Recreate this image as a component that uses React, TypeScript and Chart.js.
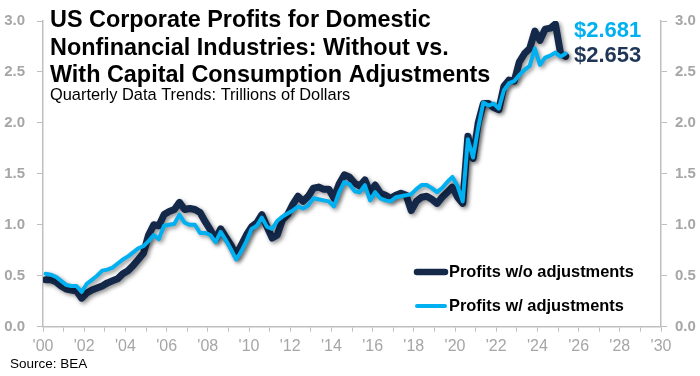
import React, { useEffect, useRef } from "react";
import { Chart, registerables } from "chart.js";
Chart.register(...registerables);

const startYear = 2000;
// Quarterly values, 2000 Q1 .. 2025 Q2 (trillions of dollars)
const profitsWithoutAdj = [
  0.46, 0.46, 0.44, 0.40,
  0.37, 0.36, 0.35, 0.28,
  0.33, 0.36, 0.38, 0.40,
  0.43, 0.45, 0.47, 0.52,
  0.55, 0.60, 0.66, 0.72,
  0.90, 1.00, 0.99, 1.10,
  1.13, 1.15, 1.22, 1.15,
  1.16, 1.15, 1.12, 1.03,
  0.95, 0.86, 0.96, 0.88,
  0.80, 0.70, 0.80, 0.90,
  0.98, 1.02, 1.10, 0.98,
  0.87, 0.90, 1.05, 1.10,
  1.20, 1.28, 1.23, 1.28,
  1.36, 1.37, 1.35, 1.35,
  1.26, 1.40, 1.49, 1.47,
  1.41, 1.38, 1.44, 1.32,
  1.39, 1.31, 1.29, 1.26,
  1.29, 1.31, 1.29, 1.14,
  1.23, 1.27, 1.28, 1.25,
  1.21, 1.27, 1.32, 1.37,
  1.27, 1.21, 1.87, 1.65,
  2.00, 2.19, 2.19, 2.15,
  2.13, 2.36, 2.42, 2.41,
  2.60, 2.68, 2.73, 2.90,
  2.81, 2.92, 2.93, 2.97,
  2.68, 2.653,
];
const profitsWithAdj = [
  0.52, 0.51, 0.49, 0.45,
  0.41, 0.40, 0.40, 0.34,
  0.42, 0.46, 0.50, 0.55,
  0.56, 0.58, 0.62, 0.66,
  0.69, 0.73, 0.77, 0.79,
  0.84, 0.90, 0.86, 0.99,
  1.00, 1.01, 1.10, 1.02,
  1.00, 1.00, 0.92, 0.92,
  0.90, 0.83, 0.93, 0.85,
  0.76, 0.66, 0.74, 0.84,
  0.96, 0.99, 1.07, 0.98,
  0.96, 1.04, 1.08, 1.11,
  1.14, 1.18, 1.16, 1.19,
  1.26, 1.25, 1.24, 1.23,
  1.18, 1.32, 1.42, 1.40,
  1.33, 1.32, 1.39, 1.24,
  1.32, 1.26, 1.24, 1.23,
  1.27, 1.28, 1.29, 1.30,
  1.35, 1.39, 1.39, 1.36,
  1.32, 1.36, 1.42, 1.47,
  1.38, 1.23, 1.84, 1.66,
  1.95, 2.20, 2.17, 2.19,
  2.14, 2.32, 2.39, 2.41,
  2.47, 2.52, 2.56, 2.73,
  2.57, 2.64, 2.66, 2.69,
  2.65, 2.681,
];

const seriesNames = ["Profits w/o adjustments", "Profits w/ adjustments"];
const titleLines = [
  "US Corporate Profits for Domestic",
  "Nonfinancial Industries: Without vs.",
  "With Capital Consumption Adjustments",
];
const subtitle = "Quarterly Data Trends: Trillions of Dollars";
const sourceText = "Source: BEA";
const xMin = 2000;
const xMax = 2030;
const yMax = 3.0;

const DARK = "#14284a";
const DARK_LABEL = "#1f3657";
const LIGHT = "#00b0f0";
const GREY = "#a6a6a6";
const AXIS = "#bfbfbf";
const FONT = "'Liberation Sans', Arial, sans-serif";

const toPoints = (arr: number[]) =>
  arr.map((v, i) => ({ x: startYear + (i + 0.5) / 4, y: v }));

export default function App() {
  const ref = useRef<HTMLCanvasElement | null>(null);
  useEffect(() => {
    document.body.style.margin = "0";
    const canvas = ref.current!;
    const shadowPlugin = {
      id: "shadow",
      beforeDatasetDraw(chart: any) {
        const c = chart.ctx;
        c.save();
        c.shadowColor = "rgba(0,0,0,0.45)";
        c.shadowBlur = 4;
        c.shadowOffsetX = 2;
        c.shadowOffsetY = 2;
      },
      afterDatasetDraw(chart: any) {
        chart.ctx.restore();
      },
    };
    const textPlugin = {
      id: "texts",
      afterDraw(chart: any) {
        const c = chart.ctx as CanvasRenderingContext2D;
        c.save();
        c.textAlign = "left";
        c.textBaseline = "alphabetic";
        c.fillStyle = "#000";
        c.font = `bold 23.4px ${FONT}`;
        titleLines.forEach((t, i) => c.fillText(t, 50, 27 + i * 27.5));
        c.font = `16.4px ${FONT}`;
        c.fillText(subtitle, 50, 100);
        // end value labels
        const lastW = profitsWithAdj[profitsWithAdj.length - 1];
        const lastWo = profitsWithoutAdj[profitsWithoutAdj.length - 1];
        c.font = `bold 22px ${FONT}`;
        c.fillStyle = LIGHT;
        c.fillText("$" + lastW.toFixed(3), 574, 37);
        c.fillStyle = DARK_LABEL;
        c.fillText("$" + lastWo.toFixed(3), 574, 62);
        // legend
        c.lineCap = "round";
        c.strokeStyle = DARK;
        c.lineWidth = 6.5;
        c.beginPath();
        c.moveTo(417, 272);
        c.lineTo(445, 272);
        c.stroke();
        c.strokeStyle = LIGHT;
        c.lineWidth = 4;
        c.beginPath();
        c.moveTo(417, 306);
        c.lineTo(445, 306);
        c.stroke();
        c.fillStyle = "#000";
        c.font = `bold 16.4px ${FONT}`;
        c.textBaseline = "middle";
        c.fillText(seriesNames[0], 449, 272);
        c.fillText(seriesNames[1], 449, 306);
        c.font = `13.5px ${FONT}`;
        c.fillText(sourceText, 10, 364);
        c.restore();
      },
    };
    const yTicks = {
      min: 0,
      max: yMax,
    };
    const chart = new Chart(canvas, {
      type: "line",
      data: {
        datasets: [
          {
            label: seriesNames[1],
            data: toPoints(profitsWithAdj),
            borderColor: LIGHT,
            borderWidth: 4,
            pointRadius: 0,
            tension: 0,
            order: 0,
            borderJoinStyle: "round",
            borderCapStyle: "round",
          },
          {
            label: seriesNames[0],
            data: toPoints(profitsWithoutAdj),
            borderColor: DARK,
            borderWidth: 7,
            pointRadius: 0,
            tension: 0,
            order: 1,
            borderJoinStyle: "round",
            borderCapStyle: "round",
          },
        ],
      },
      options: {
        animation: false,
        responsive: false,
        layout: { padding: { top: 16.5, bottom: 0, left: 0, right: 0 } },
        plugins: { legend: { display: false }, tooltip: { enabled: false } },
        scales: {
          x: {
            type: "linear",
            min: xMin,
            max: xMax,
            afterFit: (s: any) => { s.height = 49.3; },
            afterBuildTicks: (s: any) => {
              const t = [];
              for (let y = xMin; y <= xMax; y++) t.push({ value: y });
              s.ticks = t;
            },
            ticks: {
              autoSkip: false,
              maxRotation: 0,
              padding: 5,
              color: GREY,
              font: { family: FONT, size: 16 },
              callback: (v: any) =>
                Number(v) % 2 === 0 ? "'" + String(Number(v) % 100).padStart(2, "0") : "",
            },
            grid: { drawOnChartArea: false, tickLength: 5, color: AXIS, lineWidth: 1 },
            border: { color: AXIS, width: 1.5 },
          },
          y: {
            position: "left",
            ...yTicks,
            afterFit: (s: any) => { s.width = 43; },
            ticks: {
              stepSize: 0.5,
              padding: 12,
              color: GREY,
              font: { family: FONT, size: 15, weight: "bold" },
              callback: (v: any) => Number(v).toFixed(1),
            },
            grid: { drawOnChartArea: false, tickLength: 6, color: AXIS },
            border: { color: AXIS, width: 1.5 },
          },
          y2: {
            position: "right",
            ...yTicks,
            afterFit: (s: any) => { s.width = 39; },
            ticks: {
              stepSize: 0.5,
              padding: 8,
              color: GREY,
              font: { family: FONT, size: 15, weight: "bold" },
              callback: (v: any) => Number(v).toFixed(1),
            },
            grid: { drawOnChartArea: false, tickLength: 6, color: AXIS },
            border: { color: AXIS, width: 1.5 },
          },
        },
      },
      plugins: [shadowPlugin, textPlugin],
    } as any);
    return () => chart.destroy();
  }, []);
  return (
    <div style={{ width: 700, height: 376, position: "relative", background: "#fff" }}>
      <canvas ref={ref} width={700} height={376} style={{ display: "block" }} />
    </div>
  );
}
